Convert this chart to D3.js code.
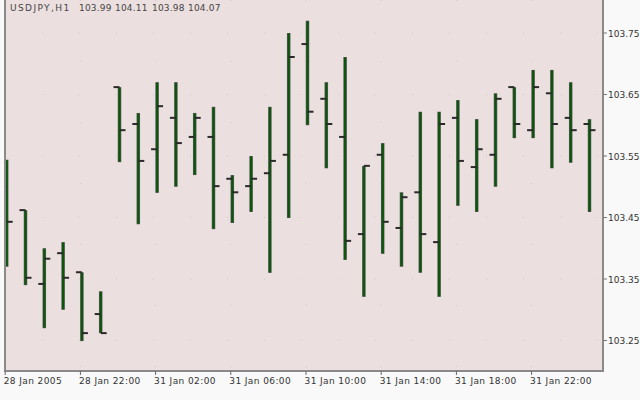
<!DOCTYPE html>
<html><head><meta charset="utf-8">
<script src="https://cdn.jsdelivr.net/npm/d3@7"></script>
<style>html,body{margin:0;padding:0;background:#f9f9f9;}svg{display:block;}</style>
</head><body>
<svg id="c" width="640" height="400"></svg>
<script>
const opens  = [103.50,103.462,103.342,103.392,103.361,103.293,103.662,103.602,103.561,103.612,103.581,103.581,103.513,103.501,103.522,103.552,103.732,103.643,103.581,103.423,103.552,103.433,103.491,103.410,103.612,103.532,103.552,103.662,103.592,103.652,103.612,103.602];
const highs  = [103.544,103.462,103.400,103.410,103.361,103.330,103.662,103.620,103.670,103.670,103.620,103.630,103.519,103.550,103.630,103.750,103.770,103.670,103.711,103.534,103.571,103.491,103.622,103.622,103.641,103.610,103.652,103.662,103.690,103.690,103.670,103.610];
const lows   = [103.370,103.340,103.270,103.300,103.249,103.262,103.540,103.439,103.490,103.500,103.519,103.431,103.441,103.459,103.360,103.449,103.600,103.530,103.381,103.321,103.391,103.370,103.360,103.321,103.469,103.459,103.500,103.579,103.579,103.530,103.539,103.459];
const closes = [103.443,103.352,103.383,103.352,103.262,103.262,103.592,103.542,103.631,103.571,103.612,103.501,103.491,103.513,103.542,103.711,103.622,103.602,103.412,103.534,103.443,103.483,103.423,103.602,103.542,103.561,103.643,103.602,103.662,103.602,103.592,103.592];
const yTicks = [103.25,103.35,103.45,103.55,103.65,103.75];
const xTickIdx = [0,4,8,12,16,20,24,28];
const xTickLabels = ["28 Jan 2005","28 Jan 22:00","31 Jan 02:00","31 Jan 06:00","31 Jan 10:00","31 Jan 14:00","31 Jan 18:00","31 Jan 22:00"];
const titleParts = ["USDJPY,H1","103.99","104.11","103.98","104.07"];

const svg = d3.select("#c");
const L = 5, R = 603, T = 0, B = 371;
const x = d3.scaleLinear().domain([0, 31]).range([6.7, 589.5]);
const y = d3.scaleLinear().domain([103.25, 103.75]).range([340.5, 33]);

svg.append("rect").attr("width",640).attr("height",400).attr("fill","#f9f9f9");
svg.append("rect").attr("x",L).attr("y",T).attr("width",R-L).attr("height",B-T).attr("fill","#ecdfdf");

svg.append("defs").append("clipPath").attr("id","pc")
  .append("rect").attr("x",L).attr("y",T).attr("width",R-L).attr("height",B-T);

// faint dotted grid
const g = svg.append("g").attr("clip-path","url(#pc)");
g.selectAll("line.gy").data(yTicks).join("line")
  .attr("x1",L).attr("x2",R).attr("y1",d=>y(d)).attr("y2",d=>y(d))
  .attr("stroke","#d6c8c8").attr("stroke-width",1).attr("stroke-dasharray","1,36");
g.selectAll("line.gx").data(xTickIdx).join("line")
  .attr("x1",d=>x(d)-1.5).attr("x2",d=>x(d)-1.5).attr("y1",T).attr("y2",B)
  .attr("stroke","#d6c8c8").attr("stroke-width",1).attr("stroke-dasharray","1,60");

// bars
const idx = d3.range(opens.length);
const bars = g.selectAll("g.bar").data(idx).join("g");
bars.append("line")
  .attr("x1",i=>x(i)).attr("x2",i=>x(i)).attr("y1",i=>y(highs[i])).attr("y2",i=>y(lows[i]))
  .attr("stroke","#5a5a5a").attr("stroke-width",3.5);
bars.append("line")
  .attr("x1",i=>x(i)).attr("x2",i=>x(i)).attr("y1",i=>y(highs[i])+0.5).attr("y2",i=>y(lows[i])-0.5)
  .attr("stroke","#0b560b").attr("stroke-width",2.2);
bars.append("line")
  .attr("x1",i=>x(i)-6).attr("x2",i=>x(i)).attr("y1",i=>y(opens[i])).attr("y2",i=>y(opens[i]))
  .attr("stroke","#2a2a2a").attr("stroke-width",2);
bars.append("line")
  .attr("x1",i=>x(i)).attr("x2",i=>x(i)+6).attr("y1",i=>y(closes[i])).attr("y2",i=>y(closes[i]))
  .attr("stroke","#2a2a2a").attr("stroke-width",2);

// frame
svg.append("path").attr("d",`M${L},${T}V${B}H${R}V${T}`)
  .attr("fill","none").attr("stroke","#8a8a8a").attr("stroke-width",2);

// y axis
const ya = svg.append("g");
ya.selectAll("line").data(yTicks).join("line")
  .attr("x1",R).attr("x2",R+4).attr("y1",d=>y(d)).attr("y2",d=>y(d))
  .attr("stroke","#777").attr("stroke-width",1);
ya.selectAll("text").data(yTicks).join("text")
  .attr("x",R+5).attr("y",d=>y(d)+3.5)
  .attr("font-family","DejaVu Sans").attr("font-size",9).attr("fill","#333")
  .text(d=>d.toFixed(2));

// x axis
const xa = svg.append("g");
xa.selectAll("line").data(xTickIdx).join("line")
  .attr("x1",d=>x(d)-1.5).attr("x2",d=>x(d)-1.5).attr("y1",B).attr("y2",B+4)
  .attr("stroke","#666").attr("stroke-width",1);
xa.selectAll("text").data(xTickIdx).join("text")
  .attr("x",d=>x(d)-3).attr("y",B+13)
  .attr("font-family","DejaVu Sans").attr("font-size",9).attr("letter-spacing",0.4).attr("fill","#333")
  .text((d,i)=>xTickLabels[i]);

// title
const titleX = [10,79,115,152,188];
svg.selectAll("text.title").data(titleParts).join("text").attr("class","title")
  .attr("x",(d,i)=>titleX[i]).attr("y",11)
  .attr("font-family","DejaVu Sans").attr("font-size",9).attr("fill","#444")
  .attr("letter-spacing",(d,i)=>i===0?1.4:0.2)
  .text(d=>d);
</script>
</body></html>
